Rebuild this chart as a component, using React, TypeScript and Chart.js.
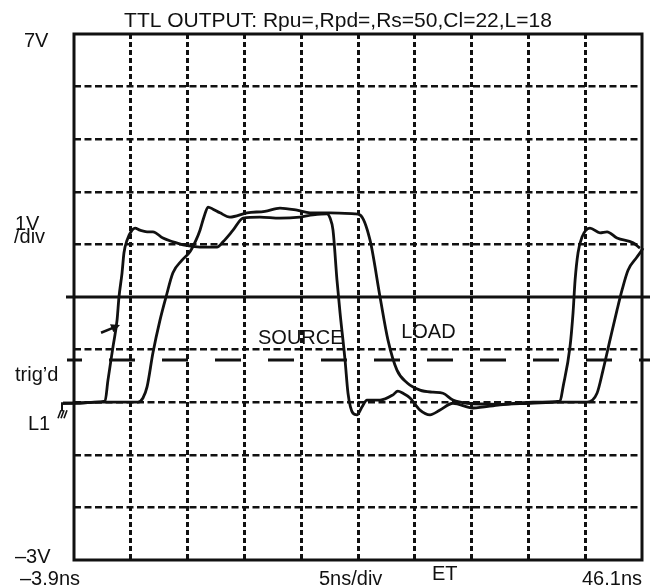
import React, { useEffect, useRef } from 'react';
import { Chart, registerables } from 'chart.js';

Chart.register(...registerables);

// ---- data ----
const TITLE = 'TTL OUTPUT: Rpu=,Rpd=,Rs=50,Cl=22,L=18';
const X_MIN = -3.9;
const X_MAX = 46.1;
const xTicks = [-3.9, 1.1, 6.1, 11.1, 16.1, 21.1, 26.1, 31.1, 36.1, 41.1, 46.1];
const yTicks = [-3, -2, -1, 0, 1, 2, 3, 4, 5, 6, 7];
const CENTER_V = 2;
const TRIG_V = 0.8;

// SOURCE trace (ns, V)
const sourceT = [-4.87, -3.37, -2.05, -1.17, -0.91, -0.47, -0.11, 0.06, 0.33, 0.5, 0.77, 1.21, 1.47, 1.91, 2.53, 3.05, 3.93, 4.81, 5.7, 7.19, 8.69, 9.22, 10.1, 10.98, 12.47, 14.23, 15.99, 17.14, 18.37, 18.64, 18.9, 19.25, 19.52, 19.96, 20.22, 20.66, 21.01, 21.45, 21.89, 23.04, 24.18, 24.6, 25.06, 25.68, 26.56, 27.44, 28.32, 29.46, 31.22, 33.6, 36.51, 38.88, 39.15, 39.76, 40.03, 40.21, 40.47, 40.82, 41.52, 42.4, 43.02, 43.9, 45.31, 45.92];
const sourceV = [-0.02, -0.02, 0.0, 0.02, 0.42, 1.05, 1.56, 2.0, 2.46, 2.84, 3.08, 3.27, 3.31, 3.27, 3.24, 3.24, 3.12, 3.05, 2.99, 2.95, 2.95, 3.05, 3.27, 3.5, 3.52, 3.5, 3.52, 3.56, 3.58, 3.5, 3.27, 2.32, 1.7, 0.8, 0.17, -0.21, -0.24, -0.09, 0.04, 0.04, 0.14, 0.21, 0.17, 0.08, -0.15, -0.24, -0.15, -0.02, -0.11, -0.05, 0.0, 0.02, 0.29, 1.05, 1.7, 2.32, 2.84, 3.14, 3.31, 3.22, 3.24, 3.12, 3.03, 2.93];

// LOAD trace (ns, V)
const loadT = [-4.87, -1.61, 1.73, 2.17, 2.53, 3.05, 3.67, 4.2, 4.81, 5.61, 6.31, 6.84, 7.19, 7.54, 7.9, 8.34, 8.95, 9.83, 11.33, 12.91, 14.23, 15.73, 16.88, 18.64, 20.84, 21.28, 22.16, 23.04, 23.74, 24.53, 25.41, 26.56, 27.7, 28.58, 29.46, 30.7, 33.6, 36.24, 38.88, 41.26, 42.14, 42.67, 43.28, 43.9, 44.34, 44.87, 45.66, 46.18, 46.63];
const loadV = [-0.02, 0.0, 0.0, 0.08, 0.29, 0.94, 1.56, 2.0, 2.46, 2.7, 2.86, 3.08, 3.27, 3.52, 3.71, 3.67, 3.6, 3.52, 3.6, 3.63, 3.69, 3.65, 3.6, 3.6, 3.58, 3.56, 3.08, 2.0, 1.18, 0.61, 0.37, 0.23, 0.19, 0.17, 0.04, -0.02, -0.04, -0.02, 0.0, 0.0, 0.17, 0.61, 1.18, 1.75, 2.13, 2.51, 2.76, 2.93, 3.22];

// annotation anchors (data coords)
const arrowFrom = { t: -1.52, v: 1.32 };
const arrowTo = { t: 0.15, v: 1.47 };
const sourceLabel = { t: 12.3, v: 1.1, text: 'SOURCE' };
const loadLabel = { t: 24.9, v: 1.22, text: 'LOAD' };

const FONT = '"Liberation Sans", Arial, Helvetica, sans-serif';
const INK = '#111';

const toXY = (ts: number[], vs: number[]) => ts.map((t, i) => ({ x: t, y: vs[i] }));

const overlayPlugin = {
  id: 'scopeOverlay',
  afterDatasetsDraw(chart: any) {
    const { ctx, chartArea: a, scales } = chart;
    const xs = scales.x;
    const ys = scales.y;
    ctx.save();
    ctx.strokeStyle = INK;
    ctx.fillStyle = INK;

    // center solid line
    const yc = ys.getPixelForValue(CENTER_V);
    ctx.lineWidth = 3;
    ctx.setLineDash([]);
    ctx.beginPath();
    ctx.moveTo(a.left - 8, yc);
    ctx.lineTo(a.right + 8, yc);
    ctx.stroke();

    // trigger level long-dash line
    const yt = ys.getPixelForValue(TRIG_V);
    ctx.lineWidth = 3;
    ctx.setLineDash([26, 27]);
    ctx.lineDashOffset = 11;
    ctx.beginPath();
    ctx.moveTo(a.left - 7, yt);
    ctx.lineTo(a.right + 8, yt);
    ctx.stroke();
    ctx.setLineDash([]);
    ctx.lineDashOffset = 0;

    // frame
    ctx.lineWidth = 3;
    ctx.strokeRect(a.left, a.top, a.right - a.left, a.bottom - a.top);

    // arrow
    const x1 = xs.getPixelForValue(arrowFrom.t);
    const y1 = ys.getPixelForValue(arrowFrom.v);
    const x2 = xs.getPixelForValue(arrowTo.t);
    const y2 = ys.getPixelForValue(arrowTo.v);
    const ang = Math.atan2(y2 - y1, x2 - x1);
    ctx.lineWidth = 2.5;
    ctx.beginPath();
    ctx.moveTo(x1, y1);
    ctx.lineTo(x2 - 5 * Math.cos(ang), y2 - 5 * Math.sin(ang));
    ctx.stroke();
    ctx.beginPath();
    ctx.moveTo(x2, y2);
    ctx.lineTo(x2 - 10 * Math.cos(ang - 0.45), y2 - 10 * Math.sin(ang - 0.45));
    ctx.lineTo(x2 - 10 * Math.cos(ang + 0.45), y2 - 10 * Math.sin(ang + 0.45));
    ctx.closePath();
    ctx.fill();

    // ground marker next to L1
    const yg = ys.getPixelForValue(0);
    const xg = a.left - 12;
    ctx.lineWidth = 2;
    ctx.beginPath();
    ctx.moveTo(xg, yg);
    ctx.lineTo(xg, yg + 9);
    ctx.stroke();
    ctx.lineWidth = 1.6;
    for (let k = 0; k < 3; k++) {
      ctx.beginPath();
      ctx.moveTo(xg - 4 + k * 3, yg + 16);
      ctx.lineTo(xg - 1 + k * 3, yg + 8);
      ctx.stroke();
    }

    // texts
    ctx.textBaseline = 'alphabetic';
    ctx.textAlign = 'center';
    ctx.font = `21px ${FONT}`;
    ctx.fillText(TITLE, 338, 27);

    ctx.textAlign = 'left';
    ctx.font = `20px ${FONT}`;
    ctx.fillText('7V', 24, 47);
    ctx.fillText('1V', 15, 230);
    ctx.fillText('/div', 14, 243);
    ctx.fillText('trig\u2019d', 15, 381);
    ctx.fillText('L1', 28, 430);
    ctx.fillText('\u20133V', 15, 563);
    ctx.fillText('\u20133.9ns', 20, 585);
    ctx.fillText('5ns/div', 319, 585);
    ctx.fillText('ET', 432, 580);
    ctx.fillText('46.1ns', 582, 585);

    ctx.fillText(sourceLabel.text, xs.getPixelForValue(sourceLabel.t), ys.getPixelForValue(sourceLabel.v));
    ctx.fillText(loadLabel.text, xs.getPixelForValue(loadLabel.t), ys.getPixelForValue(loadLabel.v));

    ctx.restore();
  },
};

export default function App() {
  const ref = useRef<HTMLCanvasElement | null>(null);

  useEffect(() => {
    const canvas = ref.current;
    if (!canvas) return;
    const edgeX = (v: number) => Math.abs(v - X_MIN) < 1e-6 || Math.abs(v - X_MAX) < 1e-6;
    const chart = new Chart(canvas, {
      type: 'line',
      data: {
        datasets: [
          {
            label: 'SOURCE',
            data: toXY(sourceT, sourceV),
            borderColor: INK,
            borderWidth: 2.8,
            pointRadius: 0,
            cubicInterpolationMode: 'monotone',
            clip: false,
          } as any,
          {
            label: 'LOAD',
            data: toXY(loadT, loadV),
            borderColor: INK,
            borderWidth: 2.8,
            pointRadius: 0,
            cubicInterpolationMode: 'monotone',
            clip: false,
          } as any,
        ],
      },
      options: {
        animation: false,
        responsive: false,
        devicePixelRatio: 1,
        layout: { padding: { left: 74, right: 12, top: 34, bottom: 28 } },
        plugins: { legend: { display: false }, tooltip: { enabled: false }, title: { display: false } },
        events: [],
        scales: {
          x: {
            type: 'linear',
            min: X_MIN,
            max: X_MAX,
            afterBuildTicks: (s: any) => {
              s.ticks = xTicks.map((v) => ({ value: v }));
            },
            ticks: { display: false },
            grid: {
              drawTicks: false,
              lineWidth: 3,
              color: (c: any) => (c.tick && edgeX(c.tick.value) ? 'rgba(0,0,0,0)' : INK),
            },
            border: { display: false, dash: [5, 3] },
          },
          y: {
            type: 'linear',
            min: -3,
            max: 7,
            afterBuildTicks: (s: any) => {
              s.ticks = yTicks.map((v) => ({ value: v }));
            },
            ticks: { display: false },
            grid: {
              drawTicks: false,
              lineWidth: 2.6,
              color: (c: any) =>
                c.tick && (c.tick.value === -3 || c.tick.value === 7 || c.tick.value === CENTER_V)
                  ? 'rgba(0,0,0,0)'
                  : INK,
            },
            border: { display: false, dash: [7, 3.5] },
          },
        },
      } as any,
      plugins: [overlayPlugin],
    });
    return () => chart.destroy();
  }, []);

  return (
    <div style={{ position: 'absolute', left: 0, top: 0, width: 654, height: 588, background: '#fff' }}>
      <canvas ref={ref} width={654} height={588} style={{ display: 'block', width: 654, height: 588 }} />
    </div>
  );
}
